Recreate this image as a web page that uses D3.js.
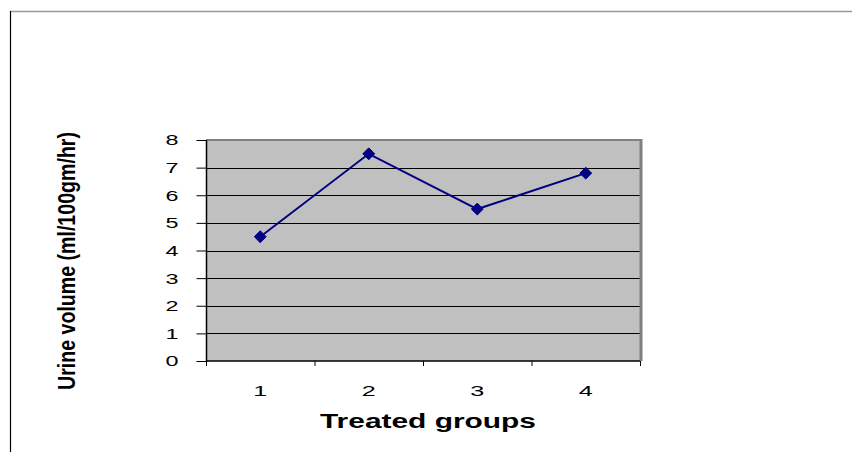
<!DOCTYPE html>
<html><head><meta charset="utf-8">
<script src="https://cdn.jsdelivr.net/npm/d3@7"></script>
<style>html,body{margin:0;padding:0;background:#fff;}svg{display:block;}</style>
</head><body>
<svg id="c" width="852" height="452"></svg>
<script>
const categories = ["1","2","3","4"];
const values = [4.5, 7.5, 5.5, 6.8];
const yTicks = [0,1,2,3,4,5,6,7,8];
const xTitle = "Treated groups";
const yTitle = "Urine volume (ml/100gm/hr)";

const svg = d3.select("#c");
const L=206, R=640, T=140, B=361;

// outer frame
svg.append("line").attr("x1",10).attr("x2",852).attr("y1",11.5).attr("y2",11.5).attr("stroke","#999").attr("stroke-width",1.5);
svg.append("line").attr("x1",10.5).attr("x2",10.5).attr("y1",11).attr("y2",452).attr("stroke","#000").attr("stroke-width",1.2);

const x = d3.scaleBand().domain(categories).range([L,R]).padding(0);
const y = d3.scaleLinear().domain([0,8]).range([B,T]);

svg.append("rect").attr("x",L).attr("y",T).attr("width",R-L).attr("height",B-T).attr("fill","#C0C0C0");

// gridlines
svg.append("g").selectAll("line").data(yTicks.filter(d=>d>0&&d<8)).join("line")
  .attr("x1",L).attr("x2",R).attr("y1",d=>Math.round(y(d))+0.5).attr("y2",d=>Math.round(y(d))+0.5)
  .attr("stroke","#000").attr("stroke-width",1);

// plot top & right border (gray)
svg.append("line").attr("x1",L).attr("x2",R+2).attr("y1",T).attr("y2",T).attr("stroke","#808080").attr("stroke-width",2);
svg.append("line").attr("x1",R+1).attr("x2",R+1).attr("y1",T-1).attr("y2",B).attr("stroke","#808080").attr("stroke-width",3);

// y axis
const yAxis = svg.append("g").attr("transform",`translate(${L+0.5},0)`)
  .call(d3.axisLeft(y).tickValues(yTicks).tickSize(10).tickPadding(18).tickFormat(d3.format("d")));
yAxis.select(".domain").attr("stroke","#000").attr("stroke-width",1.5).attr("d",`M0,${T}V${B}`);
yAxis.selectAll(".tick line").attr("stroke","#000");
yAxis.selectAll("text").attr("font-family","Liberation Sans, Arial, sans-serif").attr("font-size",15.5).attr("fill","#000")
  .attr("textLength",13).attr("lengthAdjust","spacingAndGlyphs");

// x axis
const xAxis = svg.append("g").attr("transform",`translate(0,${B})`)
  .call(d3.axisBottom(x).tickSize(0).tickPadding(24));
xAxis.select(".domain").attr("stroke","#000").attr("stroke-width",1.5).attr("d",`M${L},0H${R}`);
xAxis.selectAll("text").attr("font-family","Liberation Sans, Arial, sans-serif").attr("font-size",15.5).attr("fill","#000")
  .attr("textLength",14).attr("lengthAdjust","spacingAndGlyphs");
const bounds = categories.map(c=>x(c)).concat([R]);
svg.append("g").selectAll("line").data(bounds).join("line")
  .attr("x1",d=>d+0.5).attr("x2",d=>d+0.5).attr("y1",B).attr("y2",B+5).attr("stroke","#000");

// line
const line = d3.line().x((d,i)=>x(categories[i])+x.bandwidth()/2).y(d=>y(d));
svg.append("path").datum(values).attr("d",line).attr("fill","none").attr("stroke","#000080").attr("stroke-width",2);
svg.append("g").selectAll("path").data(values).join("path")
  .attr("transform",(d,i)=>`translate(${x(categories[i])+x.bandwidth()/2},${y(d)})`)
  .attr("d",d3.symbol().type(d3.symbolDiamond2).size(90))
  .attr("fill","#000080").attr("stroke","#000080");

// titles
svg.append("text").attr("x",428).attr("y",428).attr("text-anchor","middle")
  .attr("font-family","Liberation Sans, Arial, sans-serif").attr("font-weight","bold").attr("font-size",20)
  .attr("textLength",216).attr("lengthAdjust","spacingAndGlyphs")
  .text(xTitle);
svg.append("text").attr("transform","translate(75,261) rotate(-90)").attr("text-anchor","middle")
  .attr("font-family","Liberation Sans Narrow, Arial Narrow, Liberation Sans, sans-serif").attr("font-weight","bold").attr("font-size",23)
  .attr("textLength",258).attr("lengthAdjust","spacingAndGlyphs")
  .text(yTitle);
</script>
</body></html>
